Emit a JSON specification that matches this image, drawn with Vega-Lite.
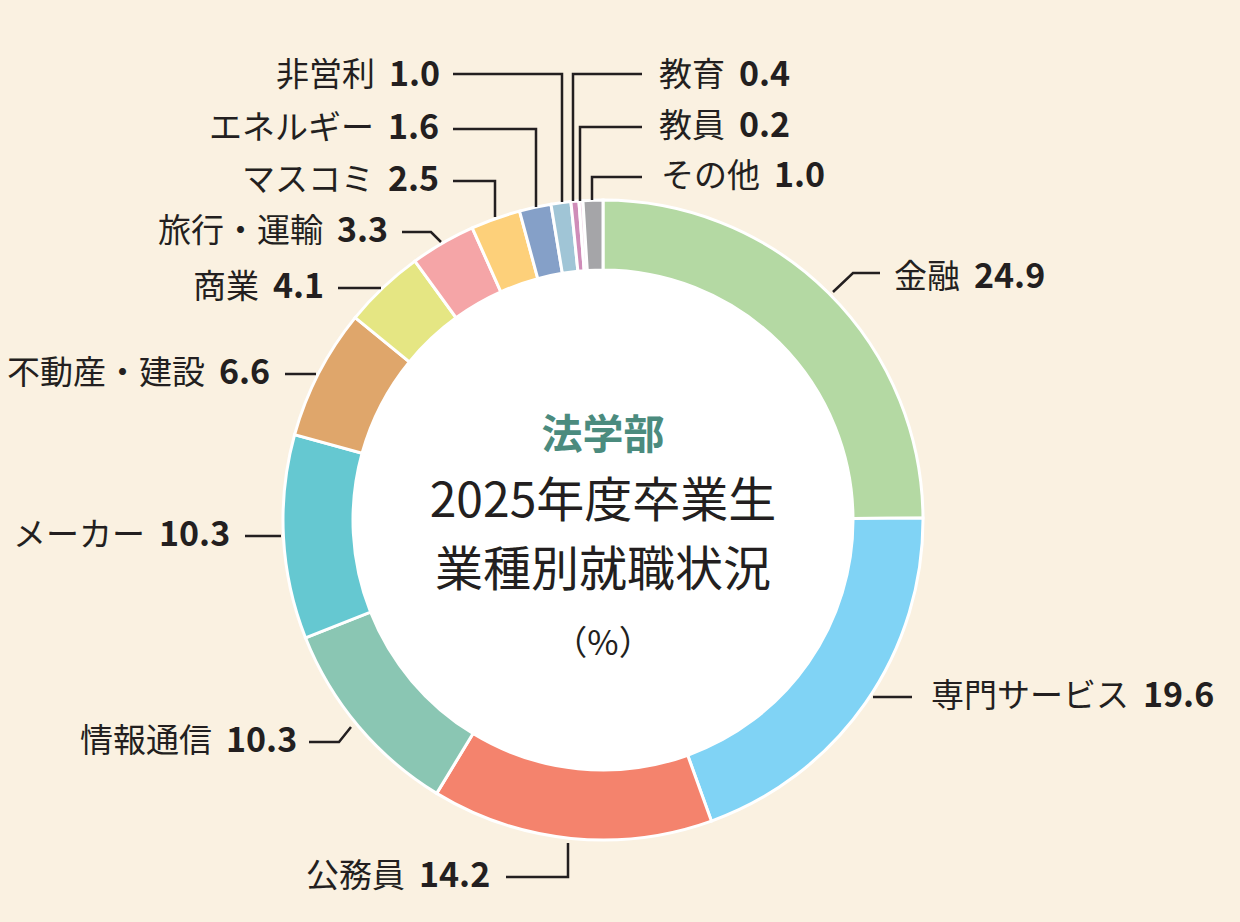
{
  "$schema": "https://vega.github.io/schema/vega-lite/v6.json",
  "description": "法学部 2025年度卒業生 業種別就職状況 (%) donut chart",
  "width": 1240,
  "height": 922,
  "autosize": {"type": "fit", "contains": "padding"},
  "padding": 0,
  "background": "#faf1e1",
  "config": {
    "view": {"stroke": null},
    "font": "Noto Sans CJK JP",
    "text": {"font": "Noto Sans CJK JP", "color": "#231f20", "baseline": "middle"}
  },
  "datasets": {
    "shares": [
      {"i": 1, "name": "金融", "pct": 24.9},
      {"i": 2, "name": "専門サービス", "pct": 19.6},
      {"i": 3, "name": "公務員", "pct": 14.2},
      {"i": 4, "name": "情報通信", "pct": 10.3},
      {"i": 5, "name": "メーカー", "pct": 10.3},
      {"i": 6, "name": "不動産・建設", "pct": 6.6},
      {"i": 7, "name": "商業", "pct": 4.1},
      {"i": 8, "name": "旅行・運輸", "pct": 3.3},
      {"i": 9, "name": "マスコミ", "pct": 2.5},
      {"i": 10, "name": "エネルギー", "pct": 1.6},
      {"i": 11, "name": "非営利", "pct": 1.0},
      {"i": 12, "name": "教育", "pct": 0.4},
      {"i": 13, "name": "教員", "pct": 0.2},
      {"i": 14, "name": "その他", "pct": 1.0}
    ],
    "labels": [
      {"name": "金融", "x": 364, "y": -242},
      {"name": "専門サービス", "x": 533, "y": 177},
      {"name": "公務員", "x": -191, "y": 357},
      {"name": "情報通信", "x": -384, "y": 222},
      {"name": "メーカー", "x": -451, "y": 16},
      {"name": "不動産・建設", "x": -391, "y": -146},
      {"name": "商業", "x": -337, "y": -232},
      {"name": "旅行・運輸", "x": -273, "y": -288},
      {"name": "マスコミ", "x": -222, "y": -339},
      {"name": "エネルギー", "x": -222, "y": -391},
      {"name": "非営利", "x": -221, "y": -444},
      {"name": "教育", "x": 129, "y": -444},
      {"name": "教員", "x": 129, "y": -393},
      {"name": "その他", "x": 164, "y": -343}
    ],
    "leaders": [
      {"name": "金融", "k": 1, "x": 230, "y": -228},
      {"name": "金融", "k": 2, "x": 250, "y": -247},
      {"name": "金融", "k": 3, "x": 277, "y": -247},
      {"name": "専門サービス", "k": 1, "x": 270, "y": 177},
      {"name": "専門サービス", "k": 2, "x": 309, "y": 177},
      {"name": "公務員", "k": 1, "x": -35, "y": 323},
      {"name": "公務員", "k": 2, "x": -35, "y": 357},
      {"name": "公務員", "k": 3, "x": -97, "y": 357},
      {"name": "情報通信", "k": 1, "x": -252, "y": 207},
      {"name": "情報通信", "k": 2, "x": -264, "y": 222},
      {"name": "情報通信", "k": 3, "x": -294, "y": 222},
      {"name": "メーカー", "k": 1, "x": -322, "y": 16},
      {"name": "メーカー", "k": 2, "x": -358, "y": 16},
      {"name": "不動産・建設", "k": 1, "x": -287, "y": -146},
      {"name": "不動産・建設", "k": 2, "x": -318, "y": -146},
      {"name": "商業", "k": 1, "x": -222, "y": -232},
      {"name": "商業", "k": 2, "x": -265, "y": -232},
      {"name": "旅行・運輸", "k": 1, "x": -162, "y": -278},
      {"name": "旅行・運輸", "k": 2, "x": -172, "y": -288},
      {"name": "旅行・運輸", "k": 3, "x": -201, "y": -288},
      {"name": "マスコミ", "k": 1, "x": -108, "y": -303},
      {"name": "マスコミ", "k": 2, "x": -108, "y": -339},
      {"name": "マスコミ", "k": 3, "x": -150, "y": -339},
      {"name": "エネルギー", "k": 1, "x": -67, "y": -313},
      {"name": "エネルギー", "k": 2, "x": -67, "y": -391},
      {"name": "エネルギー", "k": 3, "x": -150, "y": -391},
      {"name": "非営利", "k": 1, "x": -41, "y": -318},
      {"name": "非営利", "k": 2, "x": -41, "y": -446},
      {"name": "非営利", "k": 3, "x": -150, "y": -446},
      {"name": "教育", "k": 1, "x": -30, "y": -319},
      {"name": "教育", "k": 2, "x": -30, "y": -446},
      {"name": "教育", "k": 3, "x": 39, "y": -446},
      {"name": "教員", "k": 1, "x": -23, "y": -319},
      {"name": "教員", "k": 2, "x": -23, "y": -393},
      {"name": "教員", "k": 3, "x": 39, "y": -393},
      {"name": "その他", "k": 1, "x": -11, "y": -320},
      {"name": "その他", "k": 2, "x": -11, "y": -343},
      {"name": "その他", "k": 3, "x": 39, "y": -343}
    ]
  },
  "resolve": {"scale": {"theta": "independent", "color": "independent"}},
  "layer": [
    {
      "data": {"values": [{"v": 1}]},
      "mark": {"type": "arc", "outerRadius": 252, "innerRadius": 0, "fill": "white"},
      "encoding": {
        "theta": {"field": "v", "type": "quantitative"},
        "x": {"datum": 0, "type": "quantitative", "scale": {"domain": [-603, 637], "nice": false, "zero": false}, "axis": null},
        "y": {"datum": 0, "type": "quantitative", "scale": {"domain": [-520, 402], "nice": false, "zero": false, "reverse": true}, "axis": null}
      }
    },
    {
      "data": {"name": "shares"},
      "mark": {"type": "arc", "outerRadius": 320, "innerRadius": 250, "stroke": "white", "strokeWidth": 3},
      "encoding": {
        "theta": {"field": "pct", "type": "quantitative", "stack": true},
        "order": {"field": "i", "type": "quantitative"},
        "color": {
          "field": "name",
          "type": "nominal",
          "legend": null,
          "scale": {
            "domain": ["金融", "専門サービス", "公務員", "情報通信", "メーカー", "不動産・建設", "商業", "旅行・運輸", "マスコミ", "エネルギー", "非営利", "教育", "教員", "その他"],
            "range": ["#b4d9a3", "#80d3f5", "#f4836d", "#8ac6b3", "#65c8d1", "#dfa66b", "#e5e683", "#f5a5a7", "#fdd07a", "#85a0c8", "#a0c5d6", "#cf8db9", "#f2dbe9", "#a5a5a8"]
          }
        },
        "x": {"datum": 0, "type": "quantitative", "scale": {"domain": [-603, 637], "nice": false, "zero": false}, "axis": null},
        "y": {"datum": 0, "type": "quantitative", "scale": {"domain": [-520, 402], "nice": false, "zero": false, "reverse": true}, "axis": null}
      }
    },
    {
      "data": {"name": "leaders"},
      "mark": {"type": "line", "color": "#231f20", "strokeWidth": 2.5, "strokeJoin": "miter"},
      "encoding": {
        "x": {"field": "x", "type": "quantitative", "axis": null},
        "y": {"field": "y", "type": "quantitative", "axis": null},
        "detail": {"field": "name"},
        "order": {"field": "k", "type": "quantitative"}
      }
    },
    {
      "data": {"name": "labels"},
      "mark": {"type": "text", "align": "right", "dx": -7, "fontSize": 33},
      "encoding": {
        "x": {"field": "x", "type": "quantitative", "axis": null},
        "y": {"field": "y", "type": "quantitative", "axis": null},
        "text": {"field": "name"}
      }
    },
    {
      "data": {"name": "labels"},
      "transform": [
        {"lookup": "name", "from": {"data": {"name": "shares"}, "key": "name", "fields": ["pct"]}}
      ],
      "mark": {"type": "text", "align": "left", "dx": 7, "fontSize": 34, "fontWeight": "bold"},
      "encoding": {
        "x": {"field": "x", "type": "quantitative", "axis": null},
        "y": {"field": "y", "type": "quantitative", "axis": null},
        "text": {"field": "pct", "type": "quantitative", "format": ".1f"}
      }
    },
    {
      "data": {"values": [{"t": "法学部", "x": 0, "y": -83}]},
      "mark": {"type": "text", "align": "center", "fontSize": 41, "fontWeight": "bold", "color": "#4b8b7e"},
      "encoding": {
        "x": {"field": "x", "type": "quantitative", "axis": null},
        "y": {"field": "y", "type": "quantitative", "axis": null},
        "text": {"field": "t"}
      }
    },
    {
      "data": {"values": [{"t": "2025年度卒業生", "x": 0, "y": -17}, {"t": "業種別就職状況", "x": 0, "y": 52}]},
      "mark": {"type": "text", "align": "center", "fontSize": 48},
      "encoding": {
        "x": {"field": "x", "type": "quantitative", "axis": null},
        "y": {"field": "y", "type": "quantitative", "axis": null},
        "text": {"field": "t"}
      }
    },
    {
      "data": {"values": [{"t": "（%）", "x": 0, "y": 125}]},
      "mark": {"type": "text", "align": "center", "fontSize": 34},
      "encoding": {
        "x": {"field": "x", "type": "quantitative", "axis": null},
        "y": {"field": "y", "type": "quantitative", "axis": null},
        "text": {"field": "t"}
      }
    }
  ]
}
